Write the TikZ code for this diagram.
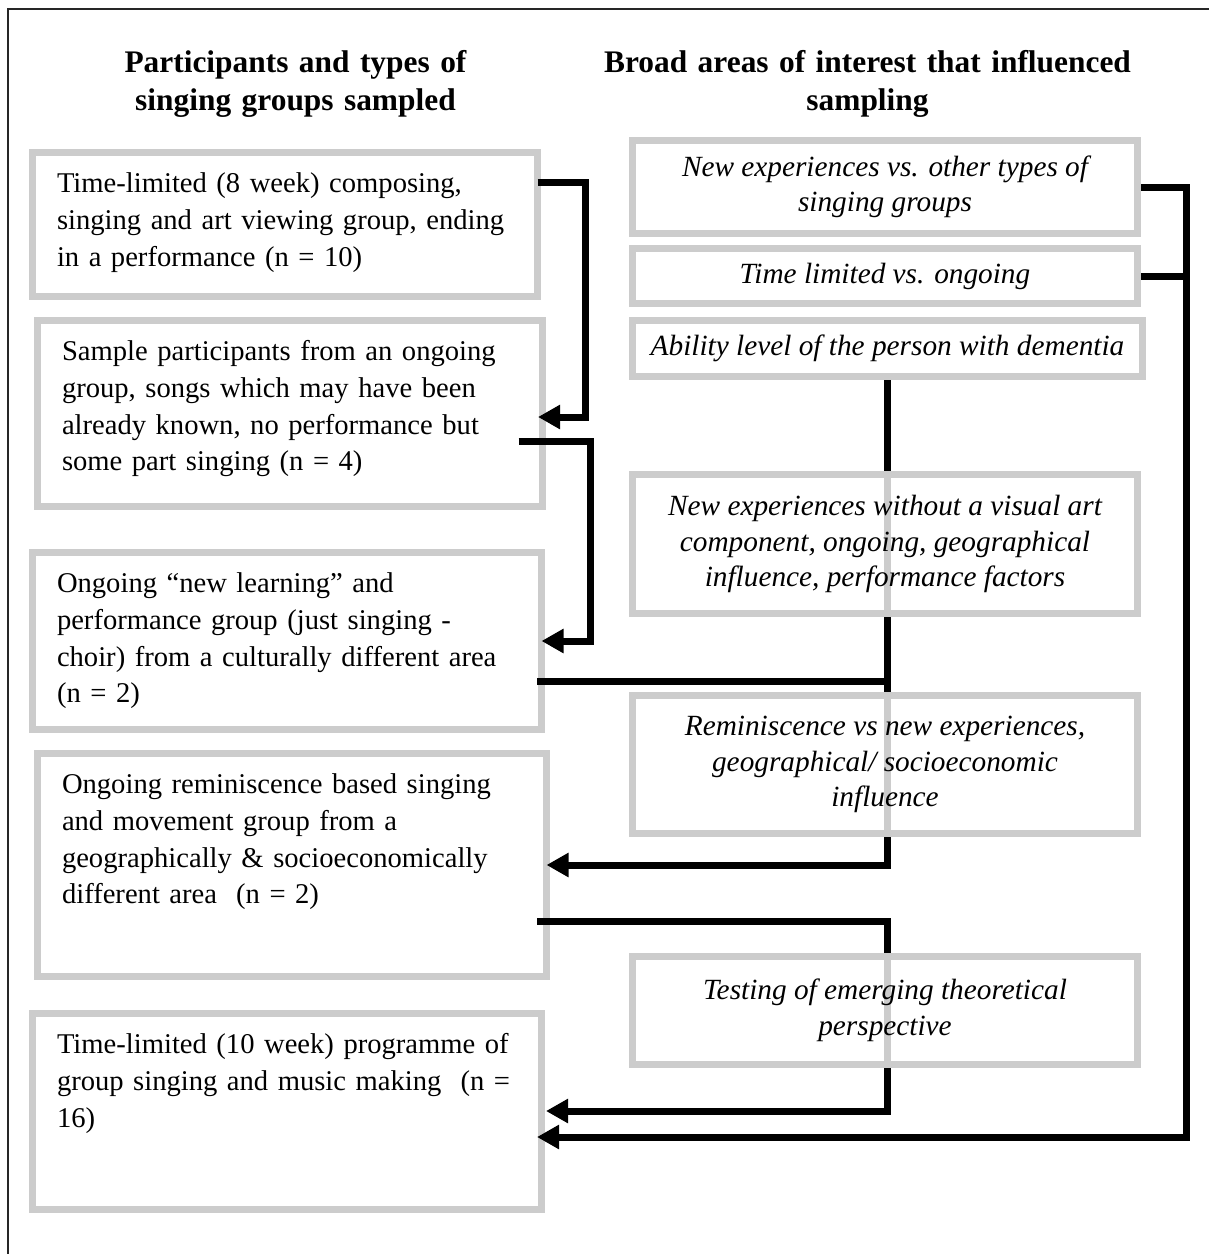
\documentclass[tikz,border=0pt]{standalone}
\usepackage{fontspec}
\setmainfont{Liberation Serif}
\usepackage{xcolor}
\usepackage{tikz}
\usetikzlibrary{arrows.meta,positioning}

\definecolor{boxgray}{HTML}{CCCCCC}
\pgfdeclarelayer{front}
\pgfsetlayers{main,front}
% one text line per row, no wrapping
\newcommand{\grouplines}[1]{\begin{tabular}[t]{@{}l@{}}#1\end{tabular}}

\begin{document}
\begin{tikzpicture}[
    x=1pt, y=-1pt,
    heading/.style={anchor=base, text width=560pt, align=center, inner sep=0pt, font=\fontsize{31.4}{38}\selectfont\bfseries},
    groupbox/.style={draw=boxgray, line width=7pt, fill=white, anchor=north west, outer sep=0pt, inner xsep=24.5pt, inner ysep=0pt, text width=456pt, align=left, text height=40pt, font=\fontsize{28.6}{36.8}\selectfont},
    areabox/.style={draw=boxgray, line width=7pt, fill=white, fill opacity=0.8, text opacity=1, anchor=north west, outer sep=0pt, inner sep=0pt, minimum width=505pt, align=center, font=\fontsize{29.3}{35.5}\selectfont\itshape},
    link/.style={line width=7pt, black},
    arrow/.style={link, -{Triangle[length=22pt, width=23pt]}}
]
    \useasboundingbox (0,0) rectangle (1209,1254);
    \draw[line width=2.5pt, black!85] (8,1254) -- (8,9) -- (1209,9);

    % Column headings
    \node[heading] (hleft) at (295.5,72) {Participants and types of\\singing groups sampled};
    \node[heading] (hright) at (867.5,72) {Broad areas of interest that influenced\\sampling};

    % Singing groups sampled
    \node[groupbox, text depth=104pt] (g1) at (32.5,152.5) {\grouplines{Time-limited (8 week) composing,\\singing and art viewing group, ending\\in a performance (n = 10)}};
    \node[groupbox, text depth=146pt] (g2) at (37.5,320.5) {\grouplines{Sample participants from an ongoing\\group, songs which may have been\\already known, no performance but\\some part singing (n = 4)}};
    \node[groupbox, text depth=137pt, text width=460pt] (g3) at (32.5,552.5) {\grouplines{Ongoing “new learning” and\\performance group (just singing -\\choir) from a culturally different area\\(n = 2)}};
    \node[groupbox, text depth=183pt, text width=460pt] (g4) at (37.5,753.5) {\grouplines{Ongoing reminiscence based singing\\and movement group from a\\geographically \& socioeconomically\\different area~ (n = 2)}};
    \node[groupbox, text depth=156pt, text width=460pt] (g5) at (32.5,1013.5) {\grouplines{Time-limited (10 week) programme of\\group singing and music making~ (n =\\16)}};

    % Areas of interest
    \begin{pgfonlayer}{front}
    \node[areabox, minimum height=93pt] (r1) at (632.5,140.5) {New experiences vs. other types of\\singing groups};
    \node[areabox, minimum height=55pt] (r2) at (632.5,248.5) {Time limited vs. ongoing};
    \node[areabox, minimum height=56pt, minimum width=510pt] (r3) at (632.5,320.5) {Ability level of the person with dementia};
    \node[areabox, minimum height=139pt] (r4) at (632.5,474.5) {New experiences without a visual art\\component, ongoing, geographical\\influence, performance factors};
    \node[areabox, minimum height=138pt] (r5) at (632.5,695.5) {Reminiscence vs new experiences,\\geographical/ socioeconomic\\influence};
    \node[areabox, minimum height=108pt] (r6) at (632.5,956.5) {Testing of emerging theoretical\\perspective};
    \end{pgfonlayer}

    % Sequence of sampling
    \draw[arrow] ([yshift=-29.5pt]g1.north east) -- ++(48,0) |- ([xshift=-4.5pt,yshift=-96.5pt]g2.north east);
    \draw[arrow] ([xshift=-24pt,yshift=-120.5pt]g2.north east) -- ++(71.5,0) |- ([yshift=-88.5pt]g3.north east);
    \coordinate (j3) at ([xshift=-4.5pt,yshift=-128.5pt]g3.north east);
    \draw[link] (j3) -- (j3 -| r3.south);
    \draw[arrow] (r3.south) |- ([yshift=-111.5pt]g4.north east);
    \coordinate (j4) at ([xshift=-9.5pt,yshift=-167.5pt]g4.north east);
    \draw[arrow] (j4) -- (j4 -| r3.south) |- ([xshift=4.5pt,yshift=-97.5pt]g5.north east);

    % Right-hand trunk
    \coordinate (trunk) at ([xshift=48.5pt]r1.east);
    \draw[arrow] (r1.east) -- (trunk) |- ([xshift=-4.5pt,yshift=-123.5pt]g5.north east);
    \draw[link] (r2.east) -- (r2.east -| trunk);
\end{tikzpicture}
\end{document}
